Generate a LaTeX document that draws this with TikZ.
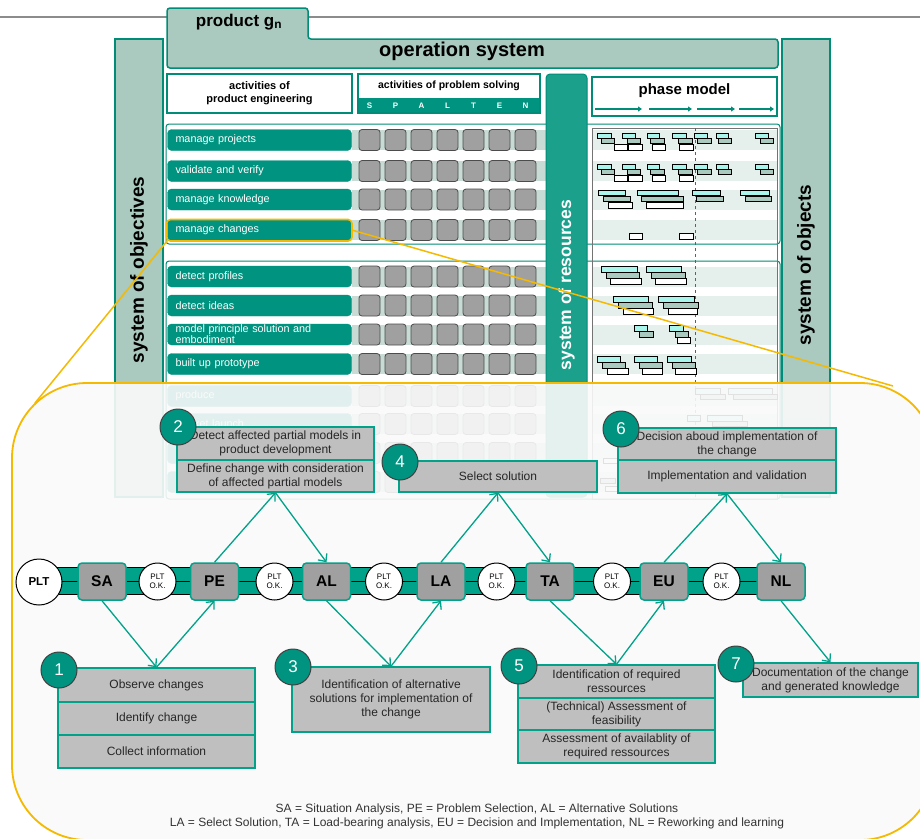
\documentclass[tikz,border=0pt]{standalone}
\usepackage{fontspec}
\setmainfont{Liberation Sans}
\usetikzlibrary{arrows.meta,calc}
\definecolor{tealD}{RGB}{0,148,128}
\definecolor{tealB}{RGB}{0,140,118}
\definecolor{tealR}{RGB}{27,160,140}
\definecolor{tealC}{RGB}{0,162,138}
\definecolor{sage}{RGB}{170,201,191}
\definecolor{stripeA}{RGB}{200,220,213}
\definecolor{stripeB}{RGB}{229,239,235}
\definecolor{boxgrey}{RGB}{160,160,160}
\definecolor{stepgrey}{RGB}{191,191,191}
\definecolor{ygold}{RGB}{245,185,0}
\definecolor{cyanbar}{RGB}{170,245,235}
\newcommand{\fsz}[1]{\fontsize{#1}{#1}\selectfont}
\begin{document}
\begin{tikzpicture}[x=1pt,y=-1pt,
  sagebox/.style={draw=tealB,line width=1.5pt,fill=sage},
  whitebox/.style={draw=tealB,line width=1.5pt,fill=white},
  rowlab/.style={rectangle,rounded corners=4pt,fill=tealD,draw=tealD,text=white,minimum width=184pt,minimum height=21pt,text width=168pt,inner xsep=8pt,inner ysep=0pt,align=left,font={\fontsize{10.8}{11}\selectfont}},
  cell/.style={rectangle,rounded corners=3pt,fill=boxgrey,draw=black!70,line width=0.8pt,minimum width=21pt,minimum height=21pt,inner sep=0pt},
  gb/.style={draw=black,line width=1pt},
  chainbox/.style={rectangle,rounded corners=4pt,fill=boxgrey,draw=tealC,line width=1.5pt,minimum width=48pt,minimum height=37pt,inner sep=0pt,font={\bfseries\fsz{15.5}}},
  pltok/.style={circle,fill=white,draw=black,line width=1pt,minimum size=37pt,inner sep=0pt,align=center,font={\fontsize{8}{9.5}\selectfont}},
  stepbox/.style={rectangle,fill=stepgrey,draw=tealC,line width=1.5pt,inner sep=0pt,align=center,text=black!85,font={\fontsize{12}{14}\selectfont}},
  numc/.style={circle,fill=tealD,draw=black!75,line width=1pt,minimum size=36pt,inner sep=0pt,text=white,font={\fsz{17}}},
  arr/.style={draw=tealC,line width=1.3pt,-{Straight Barb[length=6pt,width=11pt]}},
  vtext/.style={rotate=90,font={\bfseries\fsz{19}}}
]
\useasboundingbox (0,0) rectangle (920,838);
\fill[white] (0,0) rectangle (920,838);

% top rule
\draw[black!45,line width=1.2pt] (0,17) -- (920,17);

% tab + operation system bar
\draw[sagebox,rounded corners=3pt] (167,68) -- (167,8) -- (308,8) -- (308,39) -- (778,39) -- (778,68) -- cycle;
\node[font={\bfseries\fsz{17}}] (prodg) at (239,22) {product g\textsubscript{n}};
\node[font={\bfseries\fsz{20}}] (opsys) at (462,51) {operation system};

% side columns
\draw[sagebox] (115,39) rectangle (163,497);
\node[vtext] (objectives) at (139,270) {system of objectives};
\draw[sagebox] (782,39) rectangle (830,497);
\node[vtext] (objects) at (806,265) {system of objects};

% header boxes
\draw[whitebox] (167,74) rectangle (352,113);
\node[font={\bfseries\fontsize{11}{13}\selectfont},align=center] (ape) at (259.5,93.5) {activities of\\product engineering};
\fill[white] (358,74) rectangle (540,113);
\fill[tealD] (358,98) rectangle (540,113);
\draw[tealB,line width=1.5pt] (358,74) rectangle (540,113);
\node[font={\bfseries\fsz{10.5}}] (aps) at (449,86) {activities of problem solving};
\foreach \l [count=\k from 0] in {S,P,A,L,T,E,N}
  \node[text=white,font={\bfseries\fsz{8}}] (sp\k) at ({369.5+26*\k},105.5) {\l};
\draw[whitebox] (592,77) rectangle (777,116);
\node[font={\bfseries\fsz{15}}] (phase) at (684.5,91) {phase model};
\foreach \xa/\xb in {595/642,649/692,697/735,739/774}
  \draw[tealB,line width=1.6pt,-{Triangle[length=4pt,width=5pt]}] (\xa,109) -- (\xb,109);

% group frames
\draw[tealB,line width=1pt,rounded corners=3pt] (166,124) rectangle (780,244);
\draw[tealB,line width=1pt,rounded corners=3pt] (166,261) rectangle (780,499);

% row stripes
\foreach \y in {140,171,199.5,230,276.5,305.5,334.5,364,396,424,453,482}{
  \fill[stripeA] (352,\y-10) rectangle (546,\y+10);
  \fill[stripeB] (592,\y-10) rectangle (777,\y+10);
}
% phase frame
\draw[black!55,line width=0.8pt] (592,128) rectangle (777,499);
\draw[tealB,line width=1pt,dashed] (695,128) -- (695,497);

% rows
\foreach \y/\t/\n in {140/manage projects/r1,171/validate and verify/r2,199.5/manage knowledge/r3,230/manage changes/r4,276.5/detect profiles/r5,305.5/detect ideas/r6,334.5/{model principle solution and\\embodiment}/r7,364/built up prototype/r8,396/produce/r9,424/market launch/r10,453/{}/r11,482/{}/r12}{
  \node[rowlab] (\n) at (259.5,\y) {\t};
  \foreach \k in {0,...,6}
    \node[cell] (\n-\k) at ({369.5+26*\k},\y) {};
}
\draw[ygold,line width=1.6pt,rounded corners=4pt] (166.5,219.5) rectangle (352,241);

% gantt bars
\foreach \b in {133,164}{
  \foreach \xa/\xb in {614/627,628/642,652/665,679/693}
    \draw[gb,fill=white] (\xa,\b+11) rectangle (\xb,\b+17);
  \foreach \xa/\xb in {601/614,627/640,650/664,678/692,697/711,718/731,760/773}
    \draw[gb,fill=sage] (\xa,\b+5) rectangle (\xb,\b+10.5);
  \foreach \xa/\xb in {597/611,622/635,647/659,672/686,694/707,716/728,755/768}
    \draw[gb,fill=cyanbar] (\xa,\b) rectangle (\xb,\b+5);
}
\foreach \xa/\xb in {608/632,646/683} \draw[gb,fill=white] (\xa,202) rectangle (\xb,208);
\foreach \xa/\xb in {603/630,641/683,696/723,745/771} \draw[gb,fill=sage] (\xa,196) rectangle (\xb,201.5);
\foreach \xa/\xb in {598/625,637/678,692/720,740/769} \draw[gb,fill=cyanbar] (\xa,190) rectangle (\xb,195.5);
\foreach \xa/\xb in {629/642,679/693} \draw[gb,fill=white] (\xa,233) rectangle (\xb,239);
% detect profiles
\foreach \xa/\xb in {610/641,655/686} \draw[gb,fill=white] (\xa,278.5) rectangle (\xb,284);
\foreach \xa/\xb in {606/639,651/685} \draw[gb,fill=sage] (\xa,272.5) rectangle (\xb,278);
\foreach \xa/\xb in {601/637,646/681} \draw[gb,fill=cyanbar] (\xa,266.5) rectangle (\xb,272);
% detect ideas
\foreach \xa/\xb in {623/653,668/697} \draw[gb,fill=white] (\xa,308.5) rectangle (\xb,314);
\foreach \xa/\xb in {618/652,663/698} \draw[gb,fill=sage] (\xa,302.5) rectangle (\xb,308);
\foreach \xa/\xb in {613/648,658/694} \draw[gb,fill=cyanbar] (\xa,296.5) rectangle (\xb,302);
% model principle
\draw[gb,fill=white] (677,337.5) rectangle (690,343);
\foreach \xa/\xb in {639/653,675/688} \draw[gb,fill=sage] (\xa,331.5) rectangle (\xb,337);
\foreach \xa/\xb in {634/647,669/683} \draw[gb,fill=cyanbar] (\xa,325.5) rectangle (\xb,331);
% prototype
\foreach \xa/\xb in {607/628,642/662,675/696} \draw[gb,fill=white] (\xa,368.5) rectangle (\xb,374);
\foreach \xa/\xb in {602/625,639/662,672/695} \draw[gb,fill=sage] (\xa,362.5) rectangle (\xb,368);
\foreach \xa/\xb in {597/620,634/657,667/691} \draw[gb,fill=cyanbar] (\xa,356.5) rectangle (\xb,362);
% faded rows
\foreach \xa/\xb in {700/725,733/777} \draw[gb,fill=sage] (\xa,394) rectangle (\xb,399.5);
\foreach \xa/\xb in {695/720,728/772} \draw[gb,fill=cyanbar] (\xa,388.5) rectangle (\xb,394);
\draw[gb,fill=sage] (712,421) rectangle (747,426.5);
\foreach \xa/\xb in {687/700,707/742} \draw[gb,fill=cyanbar] (\xa,415.5) rectangle (\xb,421);
\draw[gb,fill=white] (603,458) rectangle (617,463.5);
\draw[gb,fill=sage] (600,478) rectangle (615,483.5);
\draw[gb,fill=white] (605,486) rectangle (618,491.5);

% system of resources
\draw[fill=tealR,draw=tealB,line width=1pt,rounded corners=4pt] (546,74) rectangle (587,497);
\node[rotate=90,text=white,font={\bfseries\fsz{17.5}}] (resources) at (566.5,285) {system of resources};

% zoom lines
\coordinate (zl) at (35,403);
\coordinate (zr) at (893,386);
\draw[ygold,line width=1.5pt] (r4.south west) -- (zl);
\draw[ygold,line width=1.5pt] (r4.east) -- (zr);

% overlay
\fill[white!98!black,fill opacity=0.9,rounded corners=75pt] (12,383) rectangle (935,840);
\draw[ygold,line width=1.8pt,rounded corners=75pt] (12,383) rectangle (935,840);

% chain band
\fill[tealC] (39,567) rectangle (781,594);
\draw[black,line width=1pt] (39,567) -- (781,567) (39,581) -- (781,581) (39,594) -- (781,594);
\node[circle,fill=white,draw=black,line width=1pt,minimum size=46pt,inner sep=0pt,font={\bfseries\fsz{11.5}}] (plt) at (39,582) {PLT};
\node[chainbox] (sa) at (102,581.5) {SA};
\node[chainbox] (pe) at (214.5,581.5) {PE};
\node[chainbox] (al) at (326.5,581.5) {AL};
\node[chainbox] (la) at (441,581.5) {LA};
\node[chainbox] (ta) at (550,581.5) {TA};
\node[chainbox] (eu) at (664,581.5) {EU};
\node[chainbox] (nl) at (781,581.5) {NL};
\foreach \x [count=\i] in {157.5,274.5,384,496.5,612,721.5}
  \node[pltok] (ok\i) at (\x,581.5) {PLT\\O.K.};

% step boxes
\node[stepbox,minimum width=197pt,minimum height=33pt] (b2a) at (275.5,443.5) {Detect affected partial models in\\product development};
\node[stepbox,minimum width=197pt,minimum height=32pt] (b2b) at (275.5,476) {Define change with consideration\\of affected partial models};
\node[stepbox,minimum width=198pt,minimum height=31pt] (b4) at (498,476.5) {Select solution};
\node[stepbox,minimum width=218pt,minimum height=32pt] (b6a) at (727,444) {Decision aboud implementation of\\the change};
\node[stepbox,minimum width=218pt,minimum height=33pt] (b6b) at (727,476.5) {Implementation and validation};
\node[stepbox,minimum width=197pt,minimum height=34pt] (b1a) at (156.5,685) {Observe changes};
\node[stepbox,minimum width=197pt,minimum height=33pt] (b1b) at (156.5,718.5) {Identify change};
\node[stepbox,minimum width=197pt,minimum height=33pt] (b1c) at (156.5,751.5) {Collect information};
\node[stepbox,minimum width=198pt,minimum height=65pt] (b3) at (391,699.5) {Identification of alternative\\solutions for implementation of\\the change};
\node[stepbox,minimum width=197pt,minimum height=33pt] (b5a) at (616.5,681.5) {Identification of required\\ressources};
\node[stepbox,minimum width=197pt,minimum height=32pt] (b5b) at (616.5,714) {(Technical) Assessment of\\feasibility};
\node[stepbox,minimum width=197pt,minimum height=33pt] (b5c) at (616.5,746.5) {Assessment of availablity of\\required ressources};
\node[stepbox,minimum width=175pt,minimum height=34pt] (b7) at (830.5,680) {Documentation of the change\\and generated knowledge};

% number circles
\node[numc] (n1) at (59,670) {1};
\node[numc] (n2) at (178,427) {2};
\node[numc] (n3) at (293,667) {3};
\node[numc] (n4) at (400,462) {4};
\node[numc] (n5) at (519,666) {5};
\node[numc] (n6) at (621,429) {6};
\node[numc] (n7) at (736,664) {7};

% arrows
\draw[arr] (sa.south) -- (b1a.north);
\draw[arr] (b1a.north) -- (pe.south);
\draw[arr] (pe.north) -- (b2b.south);
\draw[arr] (b2b.south) -- (al.north);
\draw[arr] (al.south) -- (b3.north);
\draw[arr] (b3.north) -- (la.south);
\draw[arr] (la.north) -- (b4.south);
\draw[arr] (b4.south) -- (ta.north);
\draw[arr] (ta.south) -- (b5a.north);
\draw[arr] (b5a.north) -- (eu.south);
\draw[arr] (eu.north) -- (b6b.south);
\draw[arr] (b6b.south) -- (nl.north);
\draw[arr] (nl.south) -- (b7.north);

% legend
\node[align=center,text=black!80,font={\fontsize{12}{14}\selectfont}] (legend) at (477,816) {SA = Situation Analysis, PE = Problem Selection, AL = Alternative Solutions\\LA = Select Solution, TA = Load-bearing analysis, EU = Decision and Implementation, NL = Reworking and learning};
\end{tikzpicture}
\end{document}
